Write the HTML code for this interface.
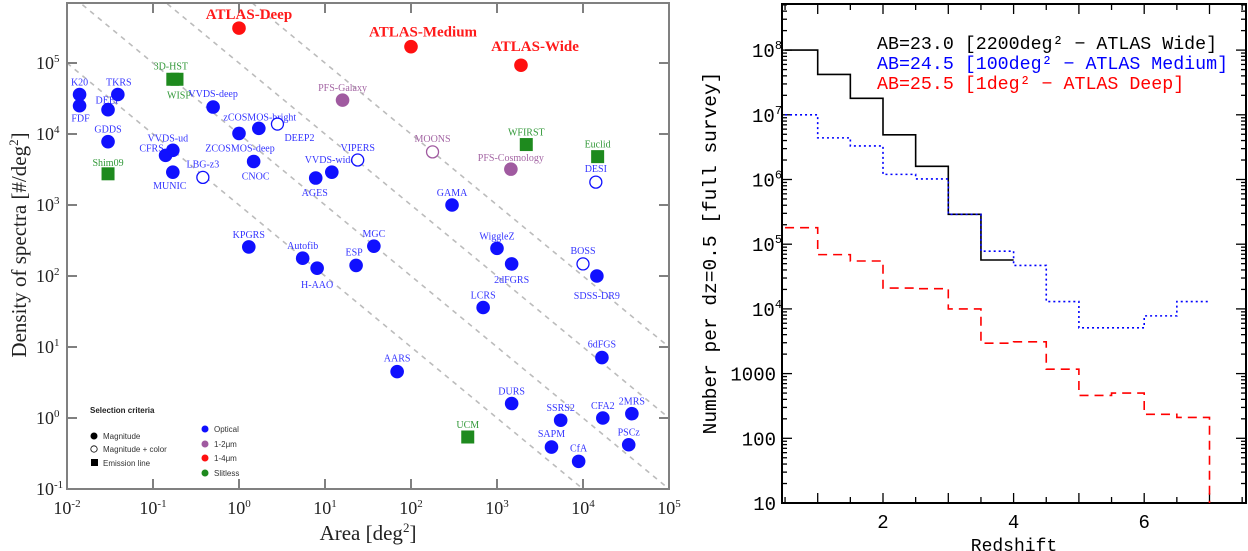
<!DOCTYPE html>
<html><head><meta charset="utf-8"><style>
html,body{margin:0;padding:0;background:#fff;}
svg{display:block;}
</style></head><body>
<svg id="fig" width="1248" height="551" viewBox="0 0 1248 551" xmlns="http://www.w3.org/2000/svg">
<g id="left"></g>
<g id="right"></g>
</svg>
<script>
// ---------- Left chart data ----------
const surveyNames = ["ATLAS-Deep","ATLAS-Medium","ATLAS-Wide","K20","FDF","DEEP","TKRS","GDDS","Shim09","3D-HST","WISP","VVDS-deep","VVDS-ud","CFRS","MUNIC","LBG-z3","zCOSMOS-bright","DEEP2","ZCOSMOS-deep","CNOC","AGES","VVDS-wide","VIPERS","PFS-Galaxy","KPGRS","Autofib","H-AAO","ESP","MGC","MOONS","WFIRST","Euclid","PFS-Cosmology","DESI","GAMA","WiggleZ","2dFGRS","BOSS","SDSS-DR9","LCRS","6dFGS","AARS","DURS","UCM","SSRS2","CFA2","2MRS","SAPM","CfA","PSCz"];
const surveyAreas = [1,100,1900,0.014,0.014,0.03,0.039,0.03,0.03,0.17,0.19,0.5,0.17,0.14,0.17,0.38,1.7,2.8,1.0,1.48,7.8,12,24,16,1.3,5.5,8.1,23,37,178,2190,14800,1450,14100,300,1000,1480,10000,14500,690,16600,69,1480,457,5500,17000,37000,4300,8900,34000];
const surveyDensities = [3.1e5,1.7e5,9.3e4,3.6e4,2.5e4,2.2e4,3.6e4,7.8e3,2.75e3,5.9e4,5.9e4,2.4e4,5.9e3,5.0e3,2.9e3,2.45e3,1.2e4,1.38e4,1.02e4,4.1e3,2.4e3,2.9e3,4.3e3,3.0e4,257,178,129,141,263,5.6e3,7.1e3,4.8e3,3.2e3,2.1e3,1000,245,148,148,100,36,7.1,4.5,1.6,0.54,0.93,1.0,1.15,0.39,0.245,0.42];
const surveyMarkers = ["f","f","f","f","f","f","f","f","s","s","s","f","f","f","f","o","f","o","f","f","f","f","o","f","f","f","f","f","f","o","s","s","f","o","f","f","f","o","f","f","f","f","f","s","f","f","f","f","f","f"];
const surveyGroups = ["r","r","r","b","b","b","b","b","g","g","g","b","b","b","b","b","b","b","b","b","b","b","b","p","b","b","b","b","b","p","g","g","p","b","b","b","b","b","b","b","b","b","b","g","b","b","b","b","b","b"];
const constantProducts = [1e3,1e4,1e5,1e6];
const xTickExps = [-2,-1,0,1,2,3,4,5];
const yTickExps = [-1,0,1,2,3,4,5];
// label placement (style only)
const labelOffsets = [[10,-13],[12,-14],[14,-18],[0,-13],[1,12],[0,-10],[1,-13],[0,-13],[0,-12],[-2,-14],[2,15],[0,-14],[-5,-13],[-14,-8],[-3,13],[0,-14],[1,-12],[22,13],[1,14],[2,14],[-1,14],[-2,-13],[0,-13],[0,-13],[0,-13],[0,-13],[0,16],[-2,-14],[0,-13],[0,-14],[0,-13],[0,-13],[0,-12],[0,-14],[0,-13],[0,-13],[0,15],[0,-14],[0,19],[0,-13],[0,-14],[0,-14],[0,-13],[0,-13],[0,-13],[0,-13],[0,-13],[0,-14],[0,-14],[0,-13]];

const NS="http://www.w3.org/2000/svg";
function el(tag, attrs, parent){const e=document.createElementNS(NS,tag);for(const k in attrs)e.setAttribute(k,attrs[k]);parent.appendChild(e);return e;}

const L={x0:67,x1:669,y0:3,y1:489};
const lxMin=-2,lxMax=5;
function xL(a){return L.x0+(Math.log10(a)-lxMin)/(lxMax-lxMin)*(L.x1-L.x0);}
function yL(d){return 63+(5-Math.log10(d))*71;}
const colors={b:"#1010ff",r:"#ff1010",g:"#1e8a1e",p:"#a05aa0"};
const labelColors={b:"#3535ff",r:"#ff1a1a",g:"#33993a",p:"#a466a4"};

const left=document.getElementById('left');
const clip=el('clipPath',{id:'lclip'},left);
el('rect',{x:L.x0,y:L.y0,width:L.x1-L.x0,height:L.y1-L.y0},clip);
const diag=el('g',{'clip-path':'url(#lclip)'},left);
constantProducts.forEach((c,i)=>{
  const a1=Math.pow(10,lxMin), a2=Math.pow(10,lxMax);
  const ln=el('line',{x1:xL(a1),y1:yL(c/a1),x2:xL(a2),y2:yL(c/a2),stroke:"#bcbcbc","stroke-width":1.6,"stroke-dasharray":"5,5"},diag);
  
  
});
const frame=el('rect',{x:L.x0,y:L.y0,width:L.x1-L.x0,height:L.y1-L.y0,fill:"none",stroke:"#808080","stroke-width":2},left);


xTickExps.forEach(e=>{
  const x=xL(Math.pow(10,e));
  el('line',{x1:x,y1:L.y1,x2:x,y2:L.y1-10,stroke:"#808080","stroke-width":2},left);
  el('line',{x1:x,y1:L.y0,x2:x,y2:L.y0+10,stroke:"#808080","stroke-width":2},left);
  const t=el('text',{x:x,y:514,"text-anchor":"middle","font-family":"Liberation Serif, serif","font-size":18,fill:"#222"},left);
  
  
  t.innerHTML='10<tspan dy="-7" font-size="11">'+e+'</tspan>';
});
yTickExps.forEach(e=>{
  const y=yL(Math.pow(10,e));
  el('line',{x1:L.x0,y1:y,x2:L.x0+10,y2:y,stroke:"#808080","stroke-width":2},left);
  el('line',{x1:L.x1,y1:y,x2:L.x1-10,y2:y,stroke:"#808080","stroke-width":2},left);
  const t=el('text',{x:36,y:y+6,"text-anchor":"start","font-family":"Liberation Serif, serif","font-size":18,fill:"#222"},left);
  
  
  t.innerHTML='10<tspan dy="-7" font-size="11">'+e+'</tspan>';
});
const xt=el('text',{x:368,y:540,"text-anchor":"middle","font-family":"Liberation Serif, serif","font-size":21,fill:"#222"},left);


xt.innerHTML='Area [deg<tspan dy="-8" font-size="13">2</tspan><tspan dy="8">]</tspan>';
const yt=el('text',{x:0,y:0,transform:"translate(26,245) rotate(-90)","text-anchor":"middle","font-family":"Liberation Serif, serif","font-size":21,fill:"#222"},left);


yt.innerHTML='Density of spectra [#/deg<tspan dy="-8" font-size="13">2</tspan><tspan dy="8">]</tspan>';
surveyNames.forEach((n,i)=>{
  const x=xL(surveyAreas[i]),y=yL(surveyDensities[i]);
  const atlas=surveyGroups[i]==='r';
  const t=el('text',{x:x+labelOffsets[i][0],y:y+labelOffsets[i][1]+4,"text-anchor":"middle","font-family":"Liberation Serif, serif","font-size":atlas?15:10,"font-weight":atlas?"bold":"normal",fill:labelColors[surveyGroups[i]]},left);
  
  
  t.textContent=n;
});
surveyNames.forEach((n,i)=>{
  const x=xL(surveyAreas[i]),y=yL(surveyDensities[i]),c=colors[surveyGroups[i]];
  let m;
  if(surveyMarkers[i]==='s') m=el('rect',{x:x-6.5,y:y-6.5,width:13,height:13,fill:c},left);
  else if(surveyMarkers[i]==='o') m=el('circle',{cx:x,cy:y,r:6,fill:"#fff",stroke:c,"stroke-width":1.3},left);
  else m=el('circle',{cx:x,cy:y,r:6.8,fill:c},left);
  
  
});
const lg=el('g',{},left);


const lt=el('text',{x:90,y:413,"font-family":"Liberation Sans, sans-serif","font-size":8,"font-weight":"bold",fill:"#222"},lg);
lt.textContent='Selection criteria';
el('circle',{cx:94,cy:436,r:3.5,fill:"#000"},lg);
el('circle',{cx:94,cy:449,r:3.2,fill:"#fff",stroke:"#000","stroke-width":0.8},lg);
el('rect',{x:91,y:459,width:7,height:7,fill:"#000"},lg);
[['Magnitude',439],['Magnitude + color',452],['Emission line',466]].forEach(a=>{const t=el('text',{x:103,y:a[1],"font-family":"Liberation Sans, sans-serif","font-size":8,fill:"#333"},lg);t.textContent=a[0];});
[['Optical','#1010ff',429],['1-2μm','#a05aa0',444],['1-4μm','#ff1010',458],['Slitless','#1e8a1e',473]].forEach(a=>{
  el('circle',{cx:205,cy:a[2],r:3.5,fill:a[1]},lg);
  const t=el('text',{x:214,y:a[2]+3,"font-family":"Liberation Sans, sans-serif","font-size":8,fill:"#333"},lg);t.textContent=a[0];
});

// ---------- Right chart data ----------
const binStarts = [0.5,1,1.5,2,2.5,3,3.5,4,4.5,5,5.5,6,6.5];
const wideCounts = [1e8,4.2e7,1.8e7,4.9e6,1.6e6,2.9e5,5.7e4];
const mediumCounts = [1e7,4.4e6,3.3e6,1.2e6,1.02e6,2.9e5,7.8e4,4.7e4,1.3e4,5.1e3,5.1e3,7.8e3,1.3e4];
const deepCounts = [1.8e5,6.9e4,5.5e4,2.1e4,2.05e4,1.0e4,2.95e3,3.1e3,1.17e3,4.6e2,5.0e2,2.35e2,2.1e2];
const rYTickBases = ["10","100","1000","10","10","10","10","10"];
const rYTickExps = ["","","","4","5","6","7","8"];
const rXTickLabels = [2,4,6];
const binWidth = 0.5;

const R={x0:782,x1:1246,y0:4,y1:503};
function xR(z){return 883+(z-2)*65.3;}
function yR(v){return 503-(Math.log10(v)-1)*64.7;}
const right=document.getElementById('right');
const rf=el('rect',{x:R.x0,y:R.y0,width:R.x1-R.x0,height:R.y1-R.y0,fill:"none",stroke:"#000","stroke-width":2},right);


for(let e=1;e<=8;e++){
  for(let k=1;k<=9;k++){
    const v=k*Math.pow(10,e); if(Math.log10(v)>8.71)break;
    const y=yR(v), len=k===1?10:5;
    el('line',{x1:R.x0,y1:y,x2:R.x0+len,y2:y,stroke:"#000","stroke-width":1.3},right);
    el('line',{x1:R.x1,y1:y,x2:R.x1-len,y2:y,stroke:"#000","stroke-width":1.3},right);
  }
}
rYTickBases.forEach((s,i)=>{
  const hasExp=rYTickExps[i]!=='';
  const t=el('text',{x:hasExp?752:776,y:yR(Math.pow(10,i+1))+7,"text-anchor":hasExp?"start":"end","font-family":"Liberation Mono, monospace","font-size":19,fill:"#000"},right);
  
  
  t.innerHTML=s+(hasExp?'<tspan dy="-8" font-size="12">'+rYTickExps[i]+'</tspan>':'');
});
for(let z=0.5;z<=7.5;z+=0.5){
  const x=xR(z), len=(z%1===0)?10:6;
  el('line',{x1:x,y1:R.y1,x2:x,y2:R.y1-len,stroke:"#000","stroke-width":1.3},right);
  el('line',{x1:x,y1:R.y0,x2:x,y2:R.y0+len,stroke:"#000","stroke-width":1.3},right);
}
rXTickLabels.forEach(z=>{
  const t=el('text',{x:xR(z),y:528,"text-anchor":"middle","font-family":"Liberation Mono, monospace","font-size":19,fill:"#000"},right);
  
  
  t.textContent=z;
});
const rxt=el('text',{x:1014,y:551,"text-anchor":"middle","font-family":"Liberation Mono, monospace","font-size":18,fill:"#000"},right);


rxt.textContent='Redshift';
const ryt=el('text',{x:0,y:0,transform:"translate(716,253) rotate(-90)","text-anchor":"middle","font-family":"Liberation Mono, monospace","font-size":19.5,fill:"#000"},right);


ryt.textContent='Number per dz=0.5 [full survey]';

function stepPath(vals, dropToFloor){
  let d='';
  vals.forEach((v,i)=>{
    const xa=xR(binStarts[i]), xb=xR(binStarts[i]+binWidth), y=yR(v);
    d+=(i===0?'M':'L')+xa+','+y+'L'+xb+','+y;
  });
  if(dropToFloor) d+='L'+xR(binStarts[vals.length-1]+binWidth)+','+R.y1;
  return d;
}
const pw=el('path',{d:stepPath(wideCounts,false),fill:"none",stroke:"#000","stroke-width":1.6},right);


const pm=el('path',{d:stepPath(mediumCounts,false),fill:"none",stroke:"#0000ff","stroke-width":1.6,"stroke-dasharray":"2,3"},right);


const pd=el('path',{d:stepPath(deepCounts,true),fill:"none",stroke:"#ff0000","stroke-width":1.6,"stroke-dasharray":"9,6"},right);



[['AB=23.0 [2200deg² − ATLAS Wide]','#000',49,'legend-entry-wide'],['AB=24.5 [100deg² − ATLAS Medium]','#0000ff',69,'legend-entry-medium'],['AB=25.5 [1deg² − ATLAS Deep]','#ff0000',89,'legend-entry-deep']].forEach(a=>{
  const t=el('text',{x:877,y:a[2],"font-family":"Liberation Mono, monospace","font-size":18.3,fill:a[1]},right);
  
  
  t.textContent=a[0];
});
</script>
</body></html>
